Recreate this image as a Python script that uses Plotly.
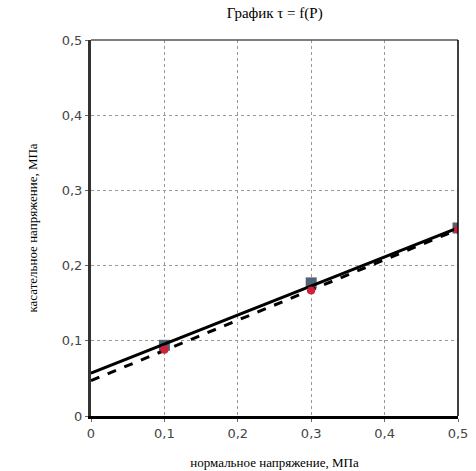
import plotly.graph_objects as go

x_pts = [0.1, 0.3, 0.5]
tau_exp1 = [0.094, 0.177, 0.250]
tau_exp2 = [0.088, 0.167, 0.248]

x_line = [0.0, 0.5]
tau_fit1 = [0.057, 0.250]
tau_fit2 = [0.047, 0.248]

tick_vals = [0, 0.1, 0.2, 0.3, 0.4, 0.5]
tick_text = ["0", "0,1", "0,2", "0,3", "0,4", "0,5"]

fig = go.Figure()
fig.add_trace(go.Scatter(x=x_pts, y=tau_exp1, mode="markers",
                         marker=dict(symbol="square", size=11, color="#4f6475"), showlegend=False))
fig.add_trace(go.Scatter(x=x_line, y=tau_fit1, mode="lines",
                         line=dict(color="black", width=3), showlegend=False))
fig.add_trace(go.Scatter(x=x_line, y=tau_fit2, mode="lines",
                         line=dict(color="black", width=3, dash="dash"), showlegend=False))
fig.add_trace(go.Scatter(x=x_pts, y=tau_exp2, mode="markers",
                         marker=dict(symbol="circle", size=8, color="#d0203a"), showlegend=False))

fig.update_layout(
    width=476, height=471,
    margin=dict(l=91, r=18, t=40, b=55, autoexpand=False),
    paper_bgcolor="white", plot_bgcolor="white",
    title=dict(text="График τ = f(P)", x=0.577, xanchor="center", y=0.972, yanchor="middle",
               font=dict(family="Liberation Serif", size=15, color="black")),
    xaxis=dict(range=[0, 0.5], tickvals=tick_vals, ticktext=tick_text, automargin=False,
               showgrid=True, gridcolor="#999", griddash="dot", gridwidth=1,
               showline=True, linecolor="black", linewidth=3, mirror=False,
               ticks="outside", ticklen=3, tickcolor="#666",
               tickfont=dict(family="DejaVu Sans", size=13, color="#444"),
               title=dict(text="нормальное напряжение, МПа", standoff=19,
                          font=dict(family="Liberation Serif", size=13, color="black")),
               zeroline=False),
    yaxis=dict(range=[0, 0.5], tickvals=tick_vals, ticktext=tick_text, automargin=False,
               showgrid=True, gridcolor="#999", griddash="dot", gridwidth=1,
               showline=True, linecolor="#333", linewidth=3,
               ticks="outside", ticklen=3, tickcolor="#666",
               tickfont=dict(family="DejaVu Sans", size=13, color="#444"),
               title=dict(text="касательное напряжение, МПа", standoff=22,
                          font=dict(family="Liberation Serif", size=13, color="black")),
               zeroline=False),
    shapes=[
        dict(type="line", xref="paper", yref="paper", x0=0, x1=1, y0=1, y1=1,
             line=dict(color="#555", width=1.5)),
        dict(type="line", xref="paper", yref="paper", x0=1, x1=1, y0=0, y1=1,
             line=dict(color="black", width=1.5)),
    ],
)

fig.write_html("out.html")
